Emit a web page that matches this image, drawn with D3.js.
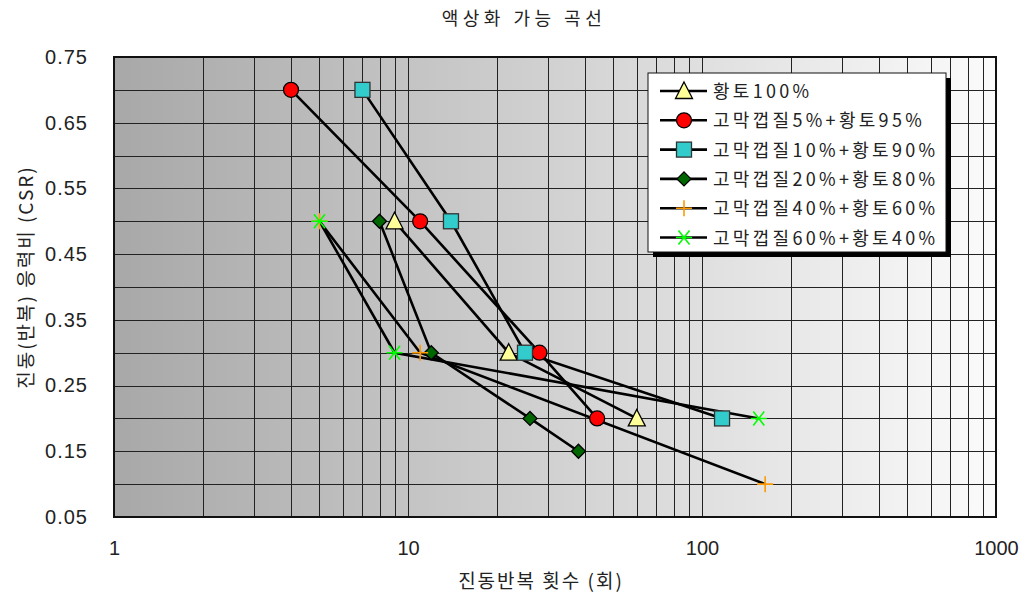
<!DOCTYPE html>
<html>
<head>
<meta charset="utf-8">
<script src="https://cdn.jsdelivr.net/npm/d3@7"></script>
<style>
  body { margin: 0; background: #fff; }
  text { font-family: "Noto Sans CJK KR", "Liberation Sans", sans-serif; fill: #222; }
</style>
</head>
<body>
<div class="chart"></div>
<script>
// size
let svgWidth = 1024
let svgHeight = 596

let margin = { left: 114, right: 28, top: 57, bottom: 79 }
let width = svgWidth - margin.left - margin.right
let height = svgHeight - margin.top - margin.bottom

// data
let seriesNames = ['황토100%', '고막껍질5%+황토95%', '고막껍질10%+황토90%',
                   '고막껍질20%+황토80%', '고막껍질40%+황토60%', '고막껍질60%+황토40%']
let seriesCycles = [
    [9, 22, 60],
    [4, 11, 28, 44],
    [7, 14, 25, 117],
    [8, 12, 26, 38],
    [5, 11, 164],
    [5, 9, 156]
]
let seriesCsr = [
    [0.5, 0.3, 0.2],
    [0.7, 0.5, 0.3, 0.2],
    [0.7, 0.5, 0.3, 0.2],
    [0.5, 0.3, 0.2, 0.15],
    [0.5, 0.3, 0.1],
    [0.5, 0.3, 0.2]
]
let xTicks = [1, 10, 100, 1000]
let yTicks = [0.05, 0.15, 0.25, 0.35, 0.45, 0.55, 0.65, 0.75]

let markerTypes = ['triangle', 'circle', 'square', 'diamond', 'plus', 'star']
let markerFill = ['#ffff99', '#ff0000', '#33cccc', '#006600', 'none', 'none']
let markerStroke = ['#000', '#000', '#333', '#000', '#ff9900', '#00ff00']

let svg = d3.select('.chart')
    .append('svg')
    .attr('width', svgWidth)
    .attr('height', svgHeight)

let defs = svg.append('defs')
let grad = defs.append('linearGradient').attr('id', 'bg')
grad.append('stop').attr('offset', '0%').attr('stop-color', '#a8a8a8')
grad.append('stop').attr('offset', '100%').attr('stop-color', '#fbfbfb')

let g = svg.append('g')
    .attr('transform', `translate(${margin.left},${margin.top})`)

let xScale = d3.scaleLog().domain([1, 1000]).range([0, width])
let yScale = d3.scaleLinear().domain([0.05, 0.75]).range([height, 0])

// plot background
g.append('rect')
    .attr('width', width)
    .attr('height', height)
    .attr('fill', 'url(#bg)')

// grid lines
let xGrid = []
for (let d = 1; d < 1000; d *= 10) {
    for (let k = 2; k <= 9; k++) xGrid.push(d * k)
}
xGrid.push(10, 100)
g.selectAll('.xgrid')
    .data(xGrid)
    .enter().append('line')
    .attr('x1', d => Math.round(xScale(d)) + 0.5)
    .attr('x2', d => Math.round(xScale(d)) + 0.5)
    .attr('y1', 0).attr('y2', height)
    .attr('stroke', '#222').attr('stroke-width', 1)

let yGrid = d3.range(0.1, 0.75, 0.05)
g.selectAll('.ygrid')
    .data(yGrid)
    .enter().append('line')
    .attr('y1', d => Math.round(yScale(d)) + 0.5)
    .attr('y2', d => Math.round(yScale(d)) + 0.5)
    .attr('x1', 0).attr('x2', width)
    .attr('stroke', '#222').attr('stroke-width', 1)

// frame
g.append('rect')
    .attr('width', width)
    .attr('height', height)
    .attr('fill', 'none')
    .attr('stroke', '#111')
    .attr('stroke-width', 2)

// axes (text only, Excel style)
let xAxis = d3.axisBottom(xScale).tickValues(xTicks).tickFormat(d3.format('d')).tickSize(0).tickPadding(24)
let yAxis = d3.axisLeft(yScale).tickValues(yTicks).tickFormat(d3.format('.2f')).tickSize(0).tickPadding(26)

let gx = g.append('g').attr('transform', `translate(0,${height})`).call(xAxis)
gx.select('.domain').remove()
gx.selectAll('text')
    .style('font-family', '"Liberation Sans Narrow", "Liberation Sans", sans-serif')
    .style('font-size', '20px')
    .attr('fill', '#222')

let gy = g.append('g').call(yAxis)
gy.select('.domain').remove()
gy.selectAll('text')
    .style('font-family', '"Liberation Sans", sans-serif')
    .style('font-size', '20px')
    .style('letter-spacing', '1px')
    .attr('fill', '#222')

// series
let line = d3.line()
    .x(d => xScale(d[0]))
    .y(d => yScale(d[1]))

function drawMarker(sel, type, i) {
    if (type == 'circle') {
        sel.append('circle').attr('r', 7.5)
    } else if (type == 'square') {
        sel.append('rect').attr('x', -7.5).attr('y', -7.5).attr('width', 15).attr('height', 15)
    } else if (type == 'triangle') {
        sel.append('path').attr('d', 'M0,-9L8.5,7.5L-8.5,7.5Z')
    } else if (type == 'diamond') {
        sel.append('path').attr('d', 'M0,-7L7,0L0,7L-7,0Z')
    } else if (type == 'plus') {
        sel.append('path').attr('d', 'M-8,0L8,0M0,-8L0,8').attr('stroke-width', 1.6)
    } else if (type == 'star') {
        sel.append('path').attr('d', 'M-8,0L8,0M-5.5,-7L5.5,7M-5.5,7L5.5,-7').attr('stroke-width', 1.6)
    }
    sel.selectAll('*')
        .attr('fill', markerFill[i])
        .attr('stroke', markerStroke[i])
    if (type != 'plus' && type != 'star') sel.selectAll('*').attr('stroke-width', 1.3)
}

seriesNames.forEach(function(name, i) {
    let pts = seriesCycles[i].map((c, j) => [c, seriesCsr[i][j]])
    g.append('path')
        .attr('d', line(pts))
        .attr('fill', 'none')
        .attr('stroke', '#000')
        .attr('stroke-width', 2.6)
})
seriesNames.forEach(function(name, i) {
    let pts = seriesCycles[i].map((c, j) => [c, seriesCsr[i][j]])
    pts.forEach(function(p) {
        let m = g.append('g')
            .attr('transform', `translate(${xScale(p[0])},${yScale(p[1])})`)
        drawMarker(m, markerTypes[i], i)
    })
})

// legend
let legend = svg.append('g').attr('transform', 'translate(648,73)')
legend.append('rect')
    .attr('x', 5).attr('y', 5).attr('width', 298).attr('height', 179)
    .attr('fill', '#000')
legend.append('rect')
    .attr('width', 298).attr('height', 179)
    .attr('fill', '#fff').attr('stroke', '#111').attr('stroke-width', 1)

seriesNames.forEach(function(name, i) {
    let row = legend.append('g').attr('transform', `translate(0,${18 + i * 29.3})`)
    row.append('line')
        .attr('x1', 12).attr('x2', 59)
        .attr('stroke', '#000').attr('stroke-width', 2.6)
    let m = row.append('g').attr('transform', 'translate(36,0)')
    drawMarker(m, markerTypes[i], i)
    row.append('text')
        .attr('x', 65).attr('y', 7)
        .style('font-size', '18px')
        .style('letter-spacing', '3.3px')
        .text(name)
})

// titles
svg.append('text')
    .attr('x', 524).attr('y', 25)
    .attr('text-anchor', 'middle')
    .style('font-size', '18px')
    .style('letter-spacing', '4.5px')
    .text('액상화 가능 곡선')

svg.append('text')
    .attr('x', 541).attr('y', 588)
    .attr('text-anchor', 'middle')
    .style('font-size', '19px')
    .style('letter-spacing', '2px')
    .text('진동반복 횟수 (회)')

svg.append('text')
    .attr('transform', 'translate(33,277) rotate(-90)')
    .attr('text-anchor', 'middle')
    .style('font-size', '19px')
    .style('letter-spacing', '2px')
    .text('진동(반복) 응력비 (CSR)')
</script>
</body>
</html>
